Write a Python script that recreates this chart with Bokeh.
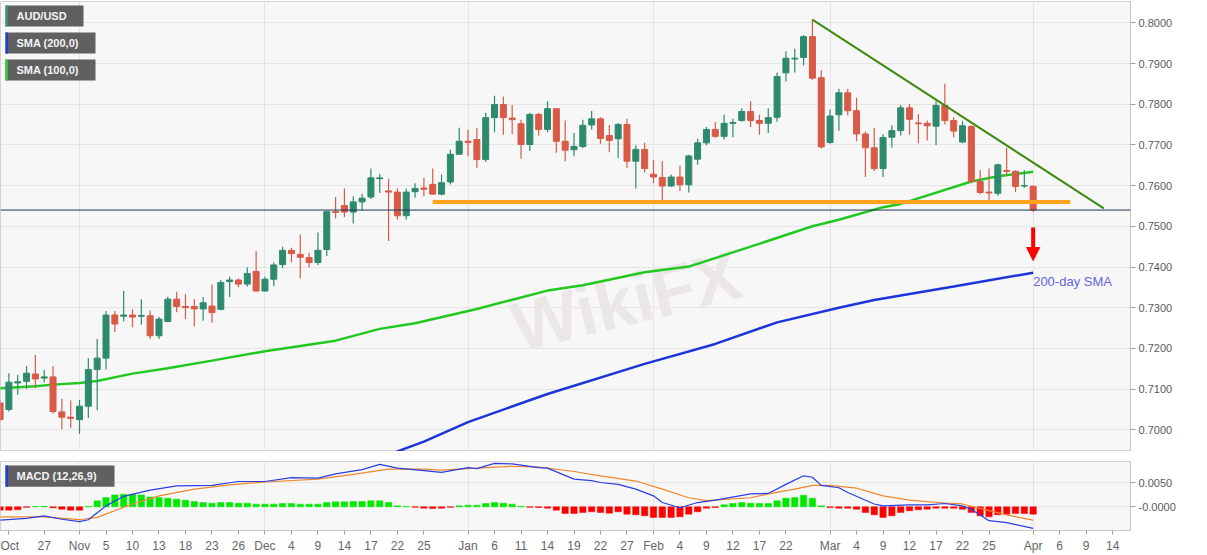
import pandas as pd
from bokeh.embed import file_html
from bokeh.layouts import column
from bokeh.models import (Arrow, BoxAnnotation, ColumnDataSource, FixedTicker, Label,
                          NormalHead, NumeralTickFormatter, Range1d, Span)
from bokeh.plotting import figure
from bokeh.resources import INLINE

# AUD/USD daily candles, 20 Oct 2020 .. 1 Apr 2021 (weekdays)
dates = pd.bdate_range("2020-10-20", "2021-04-01")

opens = [0.7066, 0.7050, 0.7115, 0.7119, 0.7137, 0.7127, 0.7130, 0.7044, 0.7031, 0.7025,
         0.7058, 0.7148, 0.7176, 0.7282, 0.7279, 0.7282, 0.7279, 0.7280, 0.7231, 0.7266,
         0.7321, 0.7303, 0.7303, 0.7297, 0.7304, 0.7296, 0.7364, 0.7368, 0.7358, 0.7389,
         0.7341, 0.7370, 0.7406, 0.7441, 0.7431, 0.7423, 0.7411, 0.7443, 0.7536, 0.7551,
         0.7535, 0.7560, 0.7572, 0.7617, 0.7587, 0.7584, 0.7526, 0.7585, 0.7594, 0.7603,
         0.7579, 0.7609, 0.7677, 0.7709, 0.7713, 0.7664, 0.7767, 0.7799, 0.7766, 0.7752,
         0.7701, 0.7775, 0.7738, 0.7789, 0.7709, 0.7688, 0.7696, 0.7749, 0.7764, 0.7723,
         0.7715, 0.7750, 0.7660, 0.7689, 0.7628, 0.7620, 0.7599, 0.7621, 0.7602, 0.7665,
         0.7705, 0.7738, 0.7721, 0.7753, 0.7760, 0.7782, 0.7760, 0.7753, 0.7768, 0.7877,
         0.7911, 0.7915, 0.7966, 0.7865, 0.7706, 0.7774, 0.7828, 0.7784, 0.7727, 0.7693,
         0.7642, 0.7719, 0.7735, 0.7791, 0.7754, 0.7753, 0.7746, 0.7797, 0.7760, 0.7707,
         0.7745, 0.7610, 0.7584, 0.7581, 0.7637, 0.7635, 0.7599, 0.7598]
highs = [0.7074, 0.7139, 0.7135, 0.7157, 0.7184, 0.7147, 0.7157, 0.7076, 0.7072, 0.7074,
         0.7176, 0.7223, 0.7292, 0.7292, 0.7341, 0.7296, 0.7321, 0.7293, 0.7277, 0.7327,
         0.7339, 0.7333, 0.7321, 0.7326, 0.7357, 0.7368, 0.7376, 0.7372, 0.7399, 0.7439,
         0.7376, 0.7411, 0.7450, 0.7447, 0.7480, 0.7435, 0.7485, 0.7536, 0.7572, 0.7593,
         0.7574, 0.7580, 0.7642, 0.7629, 0.7617, 0.7593, 0.7593, 0.7606, 0.7619, 0.7642,
         0.7627, 0.7688, 0.7742, 0.7737, 0.7742, 0.7779, 0.7821, 0.7819, 0.7798, 0.7762,
         0.7779, 0.7779, 0.7807, 0.7789, 0.7760, 0.7729, 0.7762, 0.7783, 0.7768, 0.7749,
         0.7754, 0.7764, 0.7699, 0.7705, 0.7662, 0.7660, 0.7627, 0.7649, 0.7676, 0.7715,
         0.7744, 0.7756, 0.7774, 0.7764, 0.7790, 0.7807, 0.7774, 0.7790, 0.7878, 0.7930,
         0.7936, 0.7970, 0.8009, 0.7884, 0.7787, 0.7838, 0.7838, 0.7816, 0.7733, 0.7742,
         0.7727, 0.7748, 0.7798, 0.7801, 0.7776, 0.7760, 0.7807, 0.7850, 0.7768, 0.7758,
         0.7748, 0.7638, 0.7642, 0.7654, 0.7693, 0.7638, 0.7638, 0.7601]
lows = [0.7021, 0.7045, 0.7086, 0.7101, 0.7103, 0.7116, 0.7040, 0.7002, 0.7005, 0.6990,
        0.7029, 0.7048, 0.7148, 0.7240, 0.7266, 0.7252, 0.7258, 0.7223, 0.7223, 0.7264,
        0.7289, 0.7272, 0.7254, 0.7268, 0.7263, 0.7294, 0.7326, 0.7350, 0.7352, 0.7339,
        0.7339, 0.7353, 0.7397, 0.7411, 0.7372, 0.7399, 0.7405, 0.7427, 0.7519, 0.7523,
        0.7507, 0.7538, 0.7567, 0.7582, 0.7464, 0.7517, 0.7517, 0.7570, 0.7574, 0.7579,
        0.7576, 0.7603, 0.7677, 0.7672, 0.7644, 0.7658, 0.7731, 0.7725, 0.7727, 0.7666,
        0.7685, 0.7723, 0.7731, 0.7681, 0.7660, 0.7672, 0.7692, 0.7738, 0.7703, 0.7682,
        0.7668, 0.7644, 0.7593, 0.7632, 0.7606, 0.7564, 0.7597, 0.7587, 0.7583, 0.7651,
        0.7699, 0.7717, 0.7713, 0.7719, 0.7757, 0.7744, 0.7725, 0.7729, 0.7757, 0.7856,
        0.7878, 0.7895, 0.7860, 0.7691, 0.7703, 0.7735, 0.7772, 0.7709, 0.7621, 0.7636,
        0.7621, 0.7693, 0.7723, 0.7725, 0.7704, 0.7711, 0.7699, 0.7750, 0.7719, 0.7704,
        0.7606, 0.7579, 0.7562, 0.7575, 0.7625, 0.7584, 0.7595, 0.7535]
closes = [0.7025, 0.7117, 0.7118, 0.7139, 0.7125, 0.7130, 0.7045, 0.7031, 0.7028, 0.7058,
          0.7148, 0.7176, 0.7282, 0.7260, 0.7282, 0.7277, 0.7281, 0.7231, 0.7272, 0.7321,
          0.7303, 0.7300, 0.7297, 0.7312, 0.7288, 0.7362, 0.7368, 0.7358, 0.7384, 0.7341,
          0.7370, 0.7405, 0.7441, 0.7433, 0.7424, 0.7411, 0.7441, 0.7536, 0.7534, 0.7535,
          0.7560, 0.7569, 0.7619, 0.7619, 0.7584, 0.7526, 0.7584, 0.7593, 0.7591, 0.7579,
          0.7607, 0.7677, 0.7709, 0.7706, 0.7664, 0.7767, 0.7799, 0.7767, 0.7762, 0.7701,
          0.7775, 0.7738, 0.7789, 0.7709, 0.7687, 0.7696, 0.7748, 0.7764, 0.7716, 0.7711,
          0.7750, 0.7660, 0.7689, 0.7642, 0.7621, 0.7599, 0.7621, 0.7602, 0.7673, 0.7705,
          0.7738, 0.7721, 0.7753, 0.7755, 0.7782, 0.7760, 0.7753, 0.7767, 0.7868, 0.7913,
          0.7913, 0.7966, 0.7864, 0.7695, 0.7771, 0.7828, 0.7784, 0.7727, 0.7693, 0.7642,
          0.7718, 0.7735, 0.7791, 0.7763, 0.7752, 0.7747, 0.7797, 0.7760, 0.7734, 0.7747,
          0.7610, 0.7583, 0.7582, 0.7651, 0.7635, 0.7598, 0.7600, 0.7540]

# moving averages at trading-day positions (0 = 20 Oct)
sma100_pos = [0, 4, 6, 9, 11, 15, 19, 24, 30, 38, 43, 47, 54, 62, 66, 73, 78, 85, 92,
              95, 100, 102, 110, 113, 117]
sma100_val = [0.7102, 0.7107, 0.7111, 0.7115, 0.7120, 0.7138, 0.7151, 0.7170, 0.7193,
              0.7219, 0.7248, 0.7262, 0.7297, 0.7342, 0.7355, 0.7387, 0.7401, 0.7450,
              0.7500, 0.7516, 0.7547, 0.7555, 0.7610, 0.7623, 0.7634]
sma200_pos = [43, 45, 48, 53, 62, 73, 81, 88, 95, 99, 108, 117]
sma200_val = [0.6930, 0.6947, 0.6971, 0.7019, 0.7088, 0.7162, 0.7211, 0.7264, 0.7300,
              0.7319, 0.7352, 0.7386]

# analyst lines
support_pos = [49, 121.2]
support_val = [0.7560, 0.7560]
trend_pos = [92, 125]
trend_val = [0.8008, 0.7544]
last_price = 0.75399

# MACD (12,26,9)
macd_pos = [0, 3, 5, 7, 9, 10, 12, 14, 17, 20, 24, 27, 30, 33, 36, 38, 41, 43, 45, 48,
            50, 53, 54, 56, 58, 61, 62, 65, 67, 68, 70, 72, 74, 75, 77, 79, 81, 85, 87,
            89, 91, 92, 93, 95, 96, 99, 100, 103, 105, 107, 109, 110, 112, 114, 117]
macd_val = [-0.0028, -0.0024, -0.0019, -0.0026, -0.0031, -0.0027, 0.0002, 0.0022, 0.0035,
            0.0044, 0.0045, 0.0053, 0.0053, 0.0061, 0.0060, 0.0069, 0.0078, 0.0089, 0.0081,
            0.0076, 0.0072, 0.0082, 0.0080, 0.0091, 0.0090, 0.0082, 0.0081, 0.0058, 0.0055,
            0.0051, 0.0047, 0.0037, 0.0023, 0.0009, -0.0002, 0.0009, 0.0014, 0.0027, 0.0028,
            0.0047, 0.0065, 0.0062, 0.0045, 0.0040, 0.0030, 0.0006, 0.0002, 0.0004, 0.0004,
            0.0007, 0.0002, -0.0005, -0.0029, -0.0033, -0.0045]
signal_pos = [0, 5, 9, 11, 15, 18, 22, 26, 30, 36, 40, 44, 48, 50, 54, 58, 61, 65, 68, 72,
              75, 78, 80, 85, 87, 90, 92, 94, 97, 100, 103, 107, 109, 112, 114, 117]
signal_val = [-0.0021, -0.0021, -0.0027, -0.0022, 0.0006, 0.0023, 0.0037, 0.0046, 0.0052,
              0.0058, 0.0068, 0.0079, 0.0079, 0.0077, 0.0081, 0.0085, 0.0083, 0.0074,
              0.0065, 0.0054, 0.0037, 0.0019, 0.0013, 0.0019, 0.0027, 0.0037, 0.0045,
              0.0045, 0.0039, 0.0023, 0.0014, 0.0008, 0.0006, -0.0008, -0.0017, -0.0028]
hist_val = [-0.0007, -0.0007, -0.0006, -0.0001, 0.0001, 0.0001, -0.0002, -0.0005, -0.0007, -0.0007,
            0.0001, 0.00125, 0.00194, 0.0025, 0.00264, 0.00264, 0.0025, 0.00208, 0.00194, 0.0018,
            0.0016, 0.00139, 0.00111, 0.0009, 0.00076, 0.0009, 0.0009, 0.00076, 0.00076, 0.00056,
            0.00056, 0.00056, 0.0007, 0.0007, 0.00056, 0.00056, 0.00056, 0.0009, 0.00104, 0.00104,
            0.00111, 0.00111, 0.00125, 0.00125, 0.0009, 0.0002, 0.00005, -0.0001, -0.00028, -0.00035,
            -0.00028, -0.0001, 0.0002, 0.00035, 0.00035, 0.0007, 0.0009, 0.00076, 0.00056, 0.0001,
            -0.0001, -0.00014, -0.00028, -0.0007, -0.00139, -0.00139, -0.00118, -0.00104, -0.00118, -0.00132,
            -0.00104, -0.00153, -0.00167, -0.00187, -0.00222, -0.00222, -0.00222, -0.00208, -0.00153, -0.00104,
            -0.00028, -0.00014, 0.00042, 0.0007, 0.0009, 0.00076, 0.0007, 0.0007, 0.00125, 0.0018,
            0.00194, 0.00243, 0.0018, 0.0002, -0.00014, -0.00028, -0.00028, -0.00049, -0.00118, -0.00167,
            -0.00222, -0.00187, -0.00118, -0.00083, -0.00062, -0.00049, -0.00028, -0.00028, -0.00028, -0.00049,
            -0.00118, -0.00187, -0.00208, -0.00167, -0.00153, -0.00139, -0.00139, -0.00153]

price_ticks = [0.70, 0.71, 0.72, 0.73, 0.74, 0.75, 0.76, 0.77, 0.78, 0.79, 0.80]
tick_dates = ["2020-10-21", "2020-10-27", "2020-11-02", "2020-11-05", "2020-11-10",
              "2020-11-13", "2020-11-18", "2020-11-23", "2020-11-26", "2020-12-01",
              "2020-12-04", "2020-12-09", "2020-12-14", "2020-12-17", "2020-12-22",
              "2020-12-25", "2021-01-01", "2021-01-06", "2021-01-11", "2021-01-14",
              "2021-01-19", "2021-01-22", "2021-01-27", "2021-02-01", "2021-02-04",
              "2021-02-09", "2021-02-12", "2021-02-17", "2021-02-22", "2021-03-01",
              "2021-03-04", "2021-03-09", "2021-03-12", "2021-03-17", "2021-03-22",
              "2021-03-25", "2021-04-01", "2021-04-06", "2021-04-09", "2021-04-14"]
tick_labels = ["Oct", "27", "Nov", "5", "10", "13", "18", "23", "26", "Dec", "4", "9", "14",
               "17", "22", "25", "Jan", "6", "11", "14", "19", "22", "27", "Feb", "4", "9",
               "12", "17", "22", "Mar", "4", "9", "12", "17", "22", "25", "Apr", "6", "9", "14"]
month_dates = ["2020-11-02", "2020-12-01", "2021-01-01", "2021-02-01", "2021-03-01", "2021-04-01"]

GREEN = "#2e8a6e"
RED = "#d95a47"
FONT = "Liberation Sans"

all_days = pd.bdate_range("2020-10-20", "2021-04-14")


def day_pos(d):
    return int(all_days.get_loc(pd.Timestamp(d)))


# reference pixel -> data helpers for decorations
def px_x(px):
    return (px - 43.7) / 8.83 + 5


def px_y(py):
    return 0.75 - (py - 225.8) / 4070


def px_m(py):
    return (506 - py) / 23.7 * 0.005


def style_axis(ax):
    ax.major_label_text_font = FONT
    ax.major_label_text_font_size = "11px"
    ax.major_label_text_color = "#5a5a5a"
    ax.axis_line_color = "#c8c8c8"
    ax.major_tick_line_color = "#a0a0a0"
    ax.major_tick_out = 5
    ax.major_tick_in = 0
    ax.minor_tick_line_color = None
    ax.major_label_standoff = 3


def style_frame(fig):
    fig.background_fill_color = "#f7f7f7"
    fig.border_fill_color = "white"
    fig.outline_line_color = "#d2d2d2"
    fig.grid.grid_line_color = "#e4e4e4"
    fig.xgrid.ticker = FixedTicker(ticks=[day_pos(d) for d in month_dates])


def tag(fig, left, right, top, bottom, strip, text, ymap):
    fig.add_layout(BoxAnnotation(left=px_x(left), right=px_x(right), top=ymap(top),
                                 bottom=ymap(bottom), fill_color="#606060", fill_alpha=1,
                                 line_color=None))
    fig.add_layout(BoxAnnotation(left=px_x(left), right=px_x(left + 2.5), top=ymap(top),
                                 bottom=ymap(bottom), fill_color=strip, fill_alpha=1,
                                 line_color=None))
    fig.add_layout(Label(x=px_x(left + 11), y=ymap((top + bottom) / 2), text=text,
                         text_baseline="middle", text_font=FONT, text_font_size="11px",
                         text_font_style="bold", text_color="#f4f4f4"))


pos = list(range(len(dates)))
src = ColumnDataSource(dict(
    x=pos, high=highs, low=lows,
    top=[max(o, c) for o, c in zip(opens, closes)],
    bottom=[min(o, c) for o, c in zip(opens, closes)],
    color=[GREEN if c >= o else RED for o, c in zip(opens, closes)],
))

x_range = Range1d(px_x(0), px_x(1130))

p = figure(width=1207, height=451, x_range=x_range, y_range=Range1d(px_y(451), px_y(1)),
           x_axis_location=None, y_axis_location="right", toolbar_location=None,
           output_backend="svg", min_border_left=0, min_border_right=77,
           min_border_top=1, min_border_bottom=0)
style_frame(p)
p.ygrid.ticker = FixedTicker(ticks=price_ticks)
p.yaxis.ticker = FixedTicker(ticks=price_ticks)
p.yaxis.formatter = NumeralTickFormatter(format="0.0000")
style_axis(p.yaxis[0])

# watermark
p.add_layout(Label(x=px_x(522), y=px_y(366), text="WikiFX", angle=0.24, text_font=FONT,
                   text_font_size="70px", text_font_style="bold", text_color="#ebe7e7",
                   level="underlay"))

p.line(sma200_pos, sma200_val, line_color="#1c35d8", line_width=2.5)
p.line(sma100_pos, sma100_val, line_color="#22c822", line_width=2.5)

p.segment(x0="x", y0="high", x1="x", y1="low", line_color="color", line_width=1.2, source=src)
p.vbar(x="x", width=0.68, top="top", bottom="bottom", fill_color="color",
       line_color="color", line_width=1, source=src)

p.add_layout(Span(location=last_price, dimension="width", line_color="#1e3452", line_width=1))
p.line(support_pos, support_val, line_color="#ffa31c", line_width=4)
p.line(trend_pos, trend_val, line_color="#3f8b10", line_width=2)

p.add_layout(Arrow(end=NormalHead(size=13, fill_color="#ff0000", line_color="#ff0000"),
                   x_start=pos[-1], y_start=px_y(227), x_end=pos[-1], y_end=px_y(260),
                   line_color="#ff0000", line_width=4))
p.add_layout(Label(x=pos[-1], y=px_y(281), text="200-day SMA", text_baseline="middle",
                   text_font=FONT, text_font_size="13px", text_color="#6464dc"))

p.add_layout(Label(x=px_x(1135), y=last_price, text="0.753990", text_baseline="middle",
                   text_font=FONT, text_font_size="11px", text_font_style="bold",
                   text_color="white", background_fill_color="#26405f", padding=2))

tag(p, 5, 83, 5, 26, "#3f8d7c", "AUD/USD", px_y)
tag(p, 5, 95, 32, 53, "#1f3fd0", "SMA (200,0)", px_y)
tag(p, 5, 95, 59, 80, "#2ec82e", "SMA (100,0)", px_y)

# MACD panel
m = figure(width=1207, height=104, x_range=x_range, y_range=Range1d(px_m(529.5), px_m(461)),
           y_axis_location="right", toolbar_location=None, output_backend="svg",
           min_border_left=0, min_border_right=77, min_border_top=10, min_border_bottom=0)
style_frame(m)
m.ygrid.ticker = FixedTicker(ticks=[0, 0.005])
m.yaxis.ticker = FixedTicker(ticks=[0, 0.005])
m.yaxis.major_label_overrides = {0: "-0.0000", 0.005: "0.0050"}
style_axis(m.yaxis[0])
m.xaxis.ticker = FixedTicker(ticks=[day_pos(d) for d in tick_dates])
m.xaxis.major_label_overrides = {day_pos(d): lab for d, lab in zip(tick_dates, tick_labels)}
style_axis(m.xaxis[0])
m.xaxis.major_tick_out = 4
m.xaxis.major_label_standoff = 4
m.xaxis.major_label_text_font_size = "12px"
m.xaxis.major_label_text_color = "#666666"

m.vbar(x=pos, width=0.72, top=hist_val, bottom=0,
       fill_color=["#00e800" if h >= 0 else "#ff0000" for h in hist_val],
       line_color=["#00e800" if h >= 0 else "#ff0000" for h in hist_val], line_width=0.5)
m.line(signal_pos, signal_val, line_color="#f0872c", line_width=1.2)
m.line(macd_pos, macd_val, line_color="#2a3fe0", line_width=1.2)

tag(m, 5, 114, 465, 486, "#1f3fd0", "MACD (12,26,9)", px_m)

# panel splitter handle
m.add_layout(Label(x=px_x(565), y=px_m(457), text="═", text_align="center",
                   text_baseline="middle", text_font="DejaVu Sans", text_font_size="10px",
                   text_color="#8a8a8a"))

layout = column(p, m)
open("out.html", "w").write(file_html(layout, INLINE))
